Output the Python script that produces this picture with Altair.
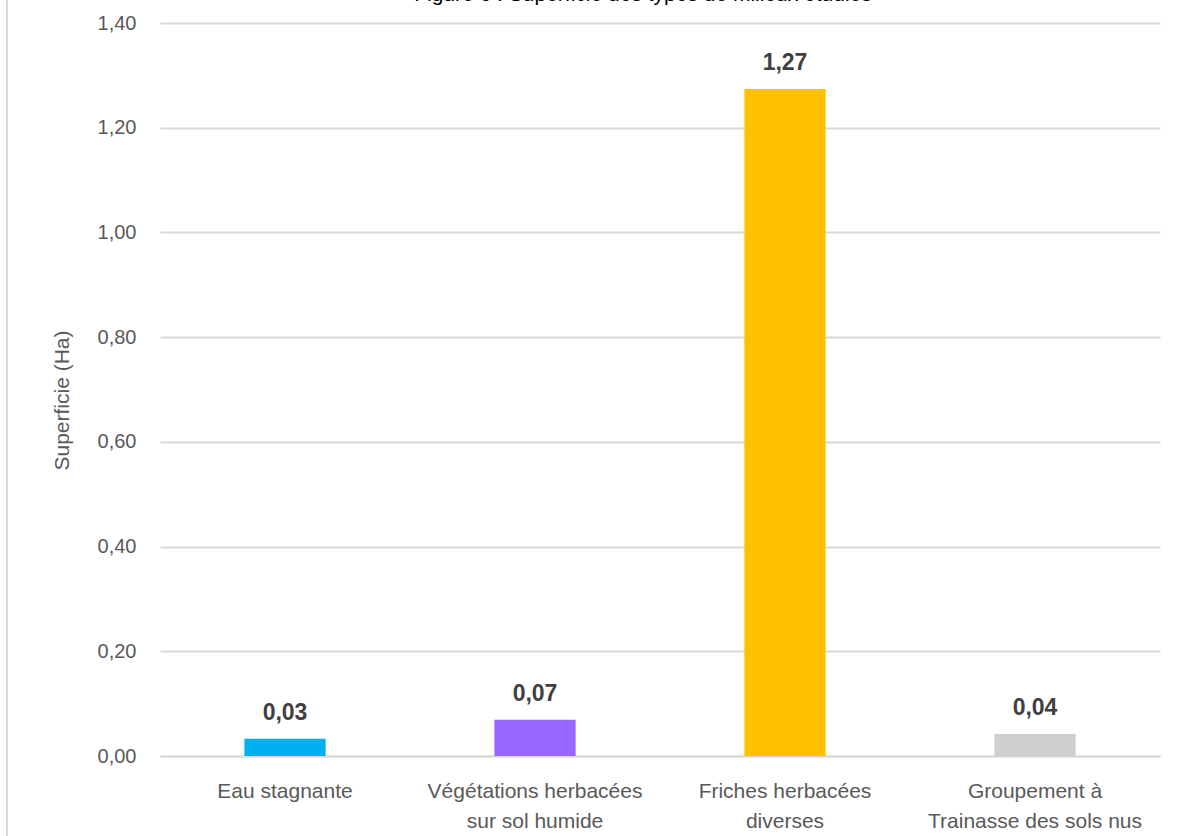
import altair as alt
import pandas as pd

categories = ["Eau stagnante", "Végétations herbacées\nsur sol humide",
              "Friches herbacées\ndiverses", "Groupement à\nTrainasse des sols nus"]
values = [0.033, 0.069, 1.274, 0.042]
colors = ["#00b0f0", "#9966ff", "#ffc000", "#d0cece"]
title_text = "Figure 6 : Superficie des types de milieux étudiés"

df = pd.DataFrame({"cat": categories, "val": values, "col": colors})

FONT = "Liberation Sans"

x = alt.X("cat:N", sort=categories, title=None,
          scale=alt.Scale(paddingInner=0.675, paddingOuter=0.3375),
          axis=alt.Axis(labelExpr="split(datum.label, '\\n')", labelAngle=0,
                        labelFontSize=21, labelColor="#595959", labelFont=FONT,
                        labelLineHeight=30, labelPadding=24, labelLimit=0, ticks=False,
                        domainColor="#d9d9d9", domainWidth=2, grid=False))
y = alt.Y("val:Q", title="Superficie  (Ha)",
          scale=alt.Scale(domain=[0, 1.4], nice=False),
          axis=alt.Axis(values=[0, 0.2, 0.4, 0.6, 0.8, 1.0, 1.2, 1.4],
                        labelExpr="replace(format(datum.value, '.2f'), '.', ',')",
                        labelFontSize=20, labelColor="#595959", labelFont=FONT,
                        labelPadding=24, ticks=False, domain=False,
                        gridColor="#d9d9d9", gridWidth=2,
                        titleFontSize=21, titleFontWeight="normal", titleColor="#595959",
                        titleFont=FONT, titleX=-88, titleY=377))

bars = alt.Chart(df).mark_bar().encode(
    x=x, y=y, color=alt.Color("col:N", scale=None))

labels = alt.Chart(df).transform_calculate(
    lab="replace(format(datum.val, '.2f'), '.', ',')"
).mark_text(fontSize=23, fontWeight="bold", color="#404040", font=FONT,
            baseline="bottom", dy=-14).encode(
    x=alt.X("cat:N", sort=categories), y="val:Q", text="lab:N")

title = alt.Chart(pd.DataFrame({"t": [title_text]})).mark_text(
    fontSize=21, color="#000000", font=FONT, baseline="alphabetic", align="center"
).encode(x=alt.value(483), y=alt.value(-22), text="t:N")

border = alt.Chart(pd.DataFrame({"a": [0]})).mark_rule(color="#d9d9d9", strokeWidth=2).encode(
    x=alt.value(-153), y=alt.value(-30), y2=alt.value(820))

chart = alt.layer(bars, labels, title, border).properties(
    width=1000, height=733,
    autosize=alt.AutoSizeParams(type="none"),
    padding={"left": 160, "top": 23, "right": 24, "bottom": 80},
    background="white",
).configure_view(stroke=None)

chart.save("out.html", embed_options={"renderer": "svg", "actions": False})
